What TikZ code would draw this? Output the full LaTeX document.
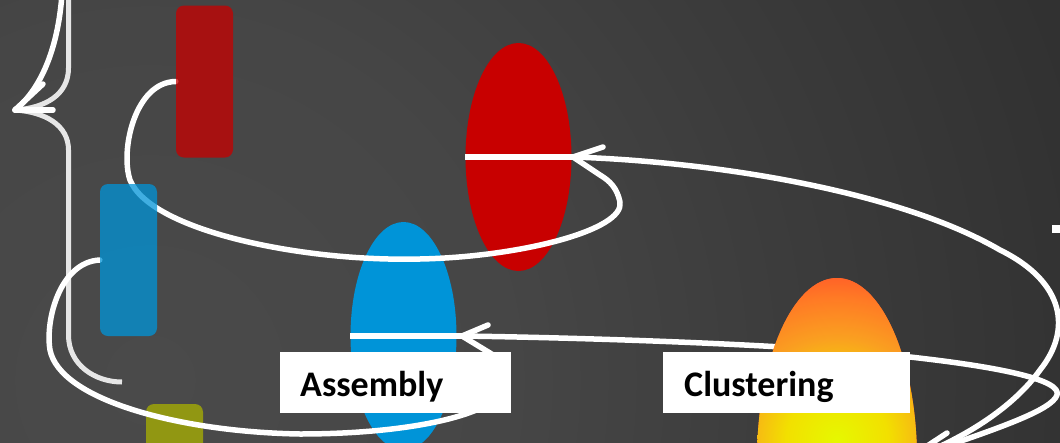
\documentclass[tikz,border=0pt]{standalone}
\usepackage{fontspec}
\setmainfont{Carlito}
\usetikzlibrary{shapes.geometric}

\definecolor{bgA}{HTML}{4A4A4A}
\definecolor{bgB}{HTML}{464646}
\definecolor{bgC}{HTML}{3C3C3C}
\definecolor{bgD}{HTML}{303030}
\definecolor{elRed}{HTML}{C80000}
\definecolor{elBlue}{HTML}{0094D8}
\definecolor{elOlive}{HTML}{AAB200}
\definecolor{braceg}{HTML}{E6E6E6}
\definecolor{flY}{HTML}{E6F800}
\definecolor{flY2}{HTML}{F2E000}
\definecolor{flO}{HTML}{FAA020}
\definecolor{flO2}{HTML}{FF7A25}
\definecolor{flR}{HTML}{FF5A28}

% TikZ fits the path to the inner 50bp square, so the path edge is at 25bp
\pgfdeclareradialshading{backglow}{\pgfpoint{0bp}{0bp}}{%
  color(0bp)=(bgA); color(9bp)=(bgB); color(16bp)=(bgC); color(25bp)=(bgD); color(50bp)=(bgD)}
\pgfdeclareradialshading{flame}{\pgfpoint{0bp}{0bp}}{%
  color(0bp)=(flY); color(7.5bp)=(flY2); color(15bp)=(flO); color(21bp)=(flO2); color(25bp)=(flR); color(50bp)=(flR)}

\pgfdeclarelayer{bg}
\pgfdeclarelayer{front}
\pgfdeclarelayer{top}
\pgfsetlayers{bg,main,front,top}

\begin{document}
\begin{tikzpicture}[x=1pt,y=-1pt,
  wire/.style={draw=white,line width=5.5pt,line cap=round,line join=round},
  bracket/.style={draw=braceg,line width=5pt,line cap=butt,line join=round},
  tagbox/.style={rectangle,fill=white,draw=none,minimum width=#1,minimum height=61pt,inner sep=0pt,anchor=north west},
  tagtext/.style={font=\fontsize{36}{40}\selectfont\bfseries,text=black,inner sep=0pt,anchor=base west},
  bar/.style={rectangle,rounded corners=8pt,draw=none,inner sep=0pt,minimum width=57pt,minimum height=152pt,fill opacity=0.75},
  blob/.style={ellipse,draw=none,inner sep=0pt,minimum width=106pt,minimum height=228pt},
]
\useasboundingbox (0,0) rectangle (1060,442);

% backdrop
\begin{pgfonlayer}{bg}
  \fill[bgD] (0,0) rectangle (1060,442);
  \begin{scope}
    \clip (0,0) rectangle (1060,442);
    \shade[shading=backglow] (150,380) circle [radius=1000];
  \end{scope}
\end{pgfonlayer}

% bars and the flame-coloured cluster sit above the wires
\begin{pgfonlayer}{front}
  \node[bar,fill=elRed] (redbar) at (204.5,81.5) {};
  \node[bar,fill=elBlue] (bluebar) at (128.5,260) {};
  \node[ellipse,draw=none,inner sep=0pt,minimum width=160pt,minimum height=364pt,fill=flR] (yell) at (837,460) {};
  \begin{scope}
    \clip (837,460) ellipse [x radius=80, y radius=182];
    \shade[shading=flame] (837,440) circle [radius=170];
  \end{scope}
\end{pgfonlayer}

% base shapes
\node[bar,fill=elOlive] (olivebar) at (174.5,480) {};
\node[blob,fill=elRed] (redell) at (518.5,157) {};
\node[blob,fill=elBlue] (blueell) at (403.5,336) {};

% arrow tips
\coordinate (redtip) at (573,157);
\coordinate (bluetip) at (462,336);
\coordinate (bracetip) at (15,110);
\coordinate (topin) at (62,-6);
\coordinate (braceup) at (68.5,-6);

% left brace
\draw[bracket] (braceup) -- (68.5,68) .. controls (68.5,95) and (45,108) .. (bracetip)
  .. controls (45,112) and (68.5,125) .. (68.5,150) -- (68.5,335)
  .. controls (68.5,365) and (95,382) .. (122,382);

% arrow into the brace
\draw[wire] (topin) .. controls (58,50) and (40,90) .. (bracetip);
\draw[wire] (bracetip) -- ++(38,0);
\draw[wire] (bracetip) -- ++(28,-26);

% red bar -> red ellipse
\draw[wire] (redbar.west) .. controls (135,82) and (120,150) .. (130,180)
  .. controls (150,230) and (300,262) .. (420,259)
  .. controls (520,257) and (625,230) .. (620,202)
  .. controls (617,188) and (610,181) .. (600,175) -- (redtip);
\draw[wire] (redtip) -- ++(30,-10);
\draw[wire,line cap=butt] (redell.west) -- (redtip);
\draw[wire] (redtip) .. controls (720,162) and (900,192) .. (1000,250)
  .. controls (1065,282) and (1072,330) .. (1040,370)
  .. controls (1015,405) and (970,435) .. (920,455);

% blue bar -> blue ellipse
\draw[wire] (bluebar.west) .. controls (60,262) and (45,320) .. (50,350)
  .. controls (60,400) and (180,432) .. (300,434)
  .. controls (400,434) and (480,418) .. (500,395)
  .. controls (510,375) and (505,362) .. (490,353) -- (bluetip);
\draw[wire] (bluetip) -- ++(26,-11);
\draw[wire,line cap=butt] (blueell.west) -- (bluetip);
\draw[wire] (bluetip) .. controls (600,338) and (800,345) .. (910,357)
  .. controls (1000,367) and (1062,380) .. (1057,395)
  .. controls (1052,410) and (1000,428) .. (920,455);

% arrowhead reaching the cluster
\draw[wire] (947,433) -- (918,452);

% stub at the right edge
\fill[white] (1052,225) rectangle (1062,232.5);

% labels
\begin{pgfonlayer}{top}
  \node[tagbox=231pt] (asmbox) at (280,352) {};
  \node[tagtext] (asmtext) at (300,396) {Assembly};
  \node[tagbox=247pt] (clubox) at (663,352) {};
  \node[tagtext] (clutext) at (684,396) {Clustering};
\end{pgfonlayer}
\end{tikzpicture}
\end{document}
